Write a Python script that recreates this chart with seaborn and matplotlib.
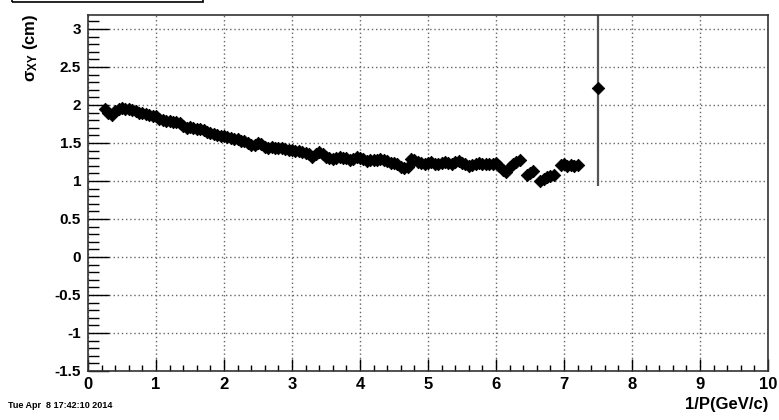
import numpy as np
import pandas as pd
import matplotlib.pyplot as plt
import seaborn as sns

# datos: sigma_XY vs 1/P
inv_p = [0.25, 0.30, 0.35, 0.40, 0.45, 0.50, 0.55, 0.60, 0.65, 0.70,
         0.75, 0.80, 0.85, 0.90, 0.95, 1.00, 1.05, 1.10, 1.15, 1.20,
         1.25, 1.30, 1.35, 1.40, 1.45, 1.50, 1.55, 1.60, 1.65, 1.70,
         1.75, 1.80, 1.85, 1.90, 1.95, 2.00, 2.05, 2.10, 2.15, 2.20,
         2.25, 2.30, 2.35, 2.40, 2.45, 2.50, 2.55, 2.60, 2.65, 2.70,
         2.75, 2.80, 2.85, 2.90, 2.95, 3.00, 3.05, 3.10, 3.15, 3.20,
         3.25, 3.30, 3.35, 3.40, 3.45, 3.50, 3.55, 3.60, 3.65, 3.70,
         3.75, 3.80, 3.85, 3.90, 3.95, 4.00, 4.05, 4.10, 4.15, 4.20,
         4.25, 4.30, 4.35, 4.40, 4.45, 4.50, 4.55, 4.60, 4.65, 4.70,
         4.75, 4.80, 4.85, 4.90, 4.95, 5.00, 5.05, 5.10, 5.15, 5.20,
         5.25, 5.30, 5.35, 5.40, 5.45, 5.50, 5.55, 5.60, 5.65, 5.70,
         5.75, 5.80, 5.85, 5.90, 5.95, 6.00, 6.05, 6.10, 6.15, 6.20,
         6.25, 6.30, 6.35, 6.45, 6.50, 6.55, 6.65, 6.70, 6.75, 6.80,
         6.85, 6.95, 7.00, 7.05, 7.10, 7.15, 7.20, 7.50]
sigma_xy = [1.95, 1.90, 1.87, 1.92, 1.95, 1.96, 1.95, 1.95, 1.93, 1.92,
            1.90, 1.90, 1.88, 1.87, 1.86, 1.85, 1.82, 1.80, 1.79, 1.79,
            1.77, 1.77, 1.76, 1.73, 1.70, 1.71, 1.70, 1.68, 1.68, 1.67,
            1.65, 1.63, 1.62, 1.60, 1.59, 1.59, 1.58, 1.56, 1.55, 1.55,
            1.53, 1.52, 1.50, 1.48, 1.48, 1.50, 1.49, 1.45, 1.44, 1.45,
            1.44, 1.43, 1.43, 1.42, 1.41, 1.41, 1.39, 1.40, 1.38, 1.37,
            1.35, 1.32, 1.35, 1.38, 1.35, 1.32, 1.30, 1.29, 1.30, 1.31,
            1.30, 1.30, 1.28, 1.29, 1.31, 1.30, 1.29, 1.26, 1.27, 1.28,
            1.27, 1.29, 1.28, 1.26, 1.24, 1.24, 1.22, 1.19, 1.17, 1.18,
            1.29, 1.28, 1.25, 1.24, 1.23, 1.24, 1.25, 1.23, 1.22, 1.24,
            1.25, 1.24, 1.23, 1.25, 1.26, 1.24, 1.23, 1.20, 1.21, 1.23,
            1.24, 1.22, 1.23, 1.22, 1.22, 1.24, 1.20, 1.15, 1.12, 1.18,
            1.22, 1.25, 1.27, 1.08, 1.10, 1.13, 1.00, 1.03, 1.05, 1.06,
            1.08, 1.21, 1.22, 1.20, 1.21, 1.20, 1.21, 2.22]
# barras de error (casi todas ocultas por el marcador)
err_lo = [0.02] * 131 + [0.03, 0.03, 0.03, 0.04, 0.08, 0.06, 1.29]
err_hi = [0.02] * 131 + [0.03, 0.03, 0.03, 0.04, 0.08, 0.06, 1.20]

df = pd.DataFrame({"invP": inv_p, "sigma": sigma_xy})

plt.rcParams['font.family'] = ['Liberation Sans', 'DejaVu Sans']
plt.rcParams['mathtext.default'] = 'regular'

fig = plt.figure(figsize=(7.79, 4.20), dpi=100)
ax = fig.add_axes([88/779, 1 - 371/420, 680/779, 356/420])

ax.errorbar(inv_p, sigma_xy, yerr=[err_lo, err_hi], fmt='none',
            ecolor='#555555', elinewidth=1.6, capsize=0, zorder=2)
sns.scatterplot(data=df, x="invP", y="sigma", marker='D', s=40,
                color='black', edgecolor='black', linewidth=0.6, ax=ax, zorder=3)

ax.set_xlim(0, 10)
ax.set_ylim(-1.5, 3 + 14/76)
ax.set_xticks(np.arange(0, 11, 1))
ax.set_xticks(np.arange(0, 10.01, 0.2), minor=True)
ax.set_yticks(np.arange(-1.5, 3.01, 0.5))
ax.set_yticks(np.arange(-1.5, 3.19, 0.1), minor=True)
ax.set_xticklabels([str(i) for i in range(11)], fontsize=12, fontweight='bold')
ax.set_yticklabels(['-1.5', '-1', '-0.5', '0', '0.5', '1', '1.5', '2', '2.5', '3'],
                   fontsize=11, fontweight='bold')
ax.set_xlabel("")
ax.set_ylabel("")

ax.tick_params(axis='x', which='major', direction='in', length=9, width=1, pad=4)
ax.tick_params(axis='x', which='minor', direction='in', length=4.5, width=1)
ax.tick_params(axis='y', which='major', direction='in', length=15, width=1, pad=5)
ax.tick_params(axis='y', which='minor', direction='in', length=8, width=1)

ax.grid(True, which='major', color='#666666', linestyle=(0, (1, 2)), linewidth=1)
ax.set_axisbelow(True)
for s in ax.spines.values():
    s.set_linewidth(1.2)
    s.set_color('#333333')

fig.text(30/779, 1 - 14/420, "σ$_{XY}$ (cm)", rotation=90, ha='center', va='top',
         fontsize=12, fontweight='bold')
fig.text(768/779, 1 - 404/420, "1/P(GeV/c)", ha='right', va='center',
         fontsize=12, fontweight='bold')
fig.text(8/779, 1 - 405/420, "Tue Apr  8 17:42:10 2014", ha='left', va='center',
         fontsize=6.5, fontweight='bold')

# recuadro del titulo (cortado arriba)
fig.patches.append(plt.Rectangle((12/779, 1 - 2/420), 191/779, 10/420, transform=fig.transFigure,
                                 fill=False, edgecolor='black', linewidth=1.2))

fig.savefig("out.png", dpi=100)
